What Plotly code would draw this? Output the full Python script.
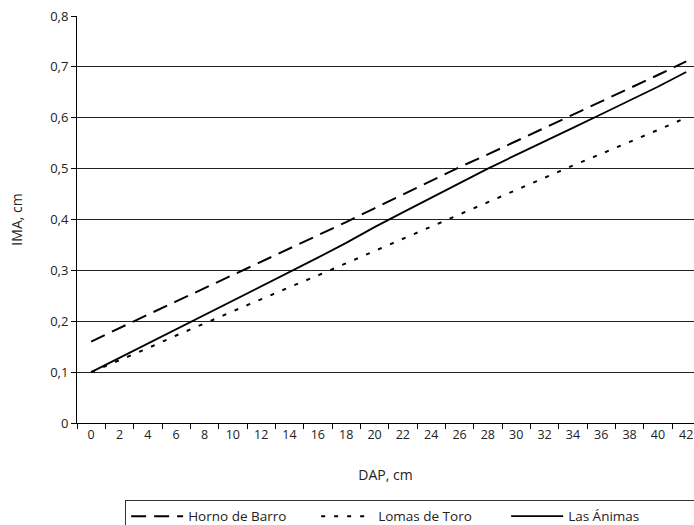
import plotly.graph_objects as go

dap = [0, 2, 4, 6, 8, 10, 12, 14, 16, 18, 20, 22, 24, 26, 28, 30, 32, 34, 36, 38, 40, 42]

horno_de_barro = [0.160, 0.187, 0.213, 0.239, 0.265, 0.290, 0.316, 0.342, 0.369, 0.395, 0.422,
                  0.449, 0.476, 0.503, 0.528, 0.554, 0.579, 0.605, 0.632, 0.658, 0.684, 0.711]
lomas_de_toro = [0.100, 0.123, 0.147, 0.172, 0.196, 0.220, 0.243, 0.267, 0.290, 0.314, 0.338,
                 0.362, 0.387, 0.411, 0.434, 0.458, 0.482, 0.506, 0.529, 0.552, 0.576, 0.600]
las_animas = [0.100, 0.128, 0.156, 0.184, 0.213, 0.241, 0.269, 0.297, 0.325, 0.354, 0.385,
              0.414, 0.443, 0.471, 0.500, 0.527, 0.553, 0.580, 0.607, 0.634, 0.661, 0.690]

y_ticks = [0, 0.1, 0.2, 0.3, 0.4, 0.5, 0.6, 0.7, 0.8]
y_tick_labels = ["0", "0,1", "0,2", "0,3", "0,4", "0,5", "0,6", "0,7", "0,8"]
x_tick_labels = [str(v) for v in dap]

FONT = "Open Sans"

fig = go.Figure()
fig.add_trace(go.Scatter(x=dap, y=horno_de_barro, mode="lines", name="Horno de Barro",
                         line=dict(color="black", width=2, dash="15px,8px")))
fig.add_trace(go.Scatter(x=dap, y=lomas_de_toro, mode="lines", name="Lomas de Toro",
                         line=dict(color="black", width=2, dash="4px,9px")))
fig.add_trace(go.Scatter(x=dap, y=las_animas, mode="lines", name="Las Ánimas",
                         line=dict(color="black", width=1.8)))

fig.update_layout(
    width=694, height=525,
    margin=dict(l=77, r=0, t=16, b=102, autoexpand=False),
    paper_bgcolor="white", plot_bgcolor="white",
    font=dict(family=FONT, size=13, color="#222"),
    showlegend=True,
    legend=dict(orientation="h", x=0.0780, xanchor="left", y=-0.189, yanchor="top",
                bordercolor="#333", borderwidth=1, bgcolor="white",
                entrywidth=123, entrywidthmode="pixels", itemwidth=52,
                font=dict(family=FONT, size=13.5, color="#222")),
    xaxis=dict(range=[-1, 42.55], tickmode="array", tickvals=dap, ticktext=x_tick_labels,
               ticks="", showgrid=False, showline=True, linecolor="black", linewidth=1,
               zeroline=False, tickfont=dict(size=12.5), ticklabeloverflow="allow",
               minor=dict(tick0=-1, dtick=2, ticks="outside", ticklen=5, tickcolor="black",
                          showgrid=False),
               title=dict(text="DAP, cm", standoff=28, font=dict(size=14))),
    yaxis=dict(range=[0, 0.8], tickmode="array", tickvals=y_ticks, ticktext=y_tick_labels,
               ticks="outside", ticklen=5, tickcolor="black",
               showgrid=True, gridcolor="#222", gridwidth=1,
               showline=True, linecolor="black", linewidth=1, zeroline=False,
               tickfont=dict(size=13),
               title=dict(text="IMA, cm", standoff=24, font=dict(size=14))),
)

fig.write_html("out.html", config={"displayModeBar": False},
               post_script="document.body.style.margin='0';document.body.style.overflow='hidden';")
